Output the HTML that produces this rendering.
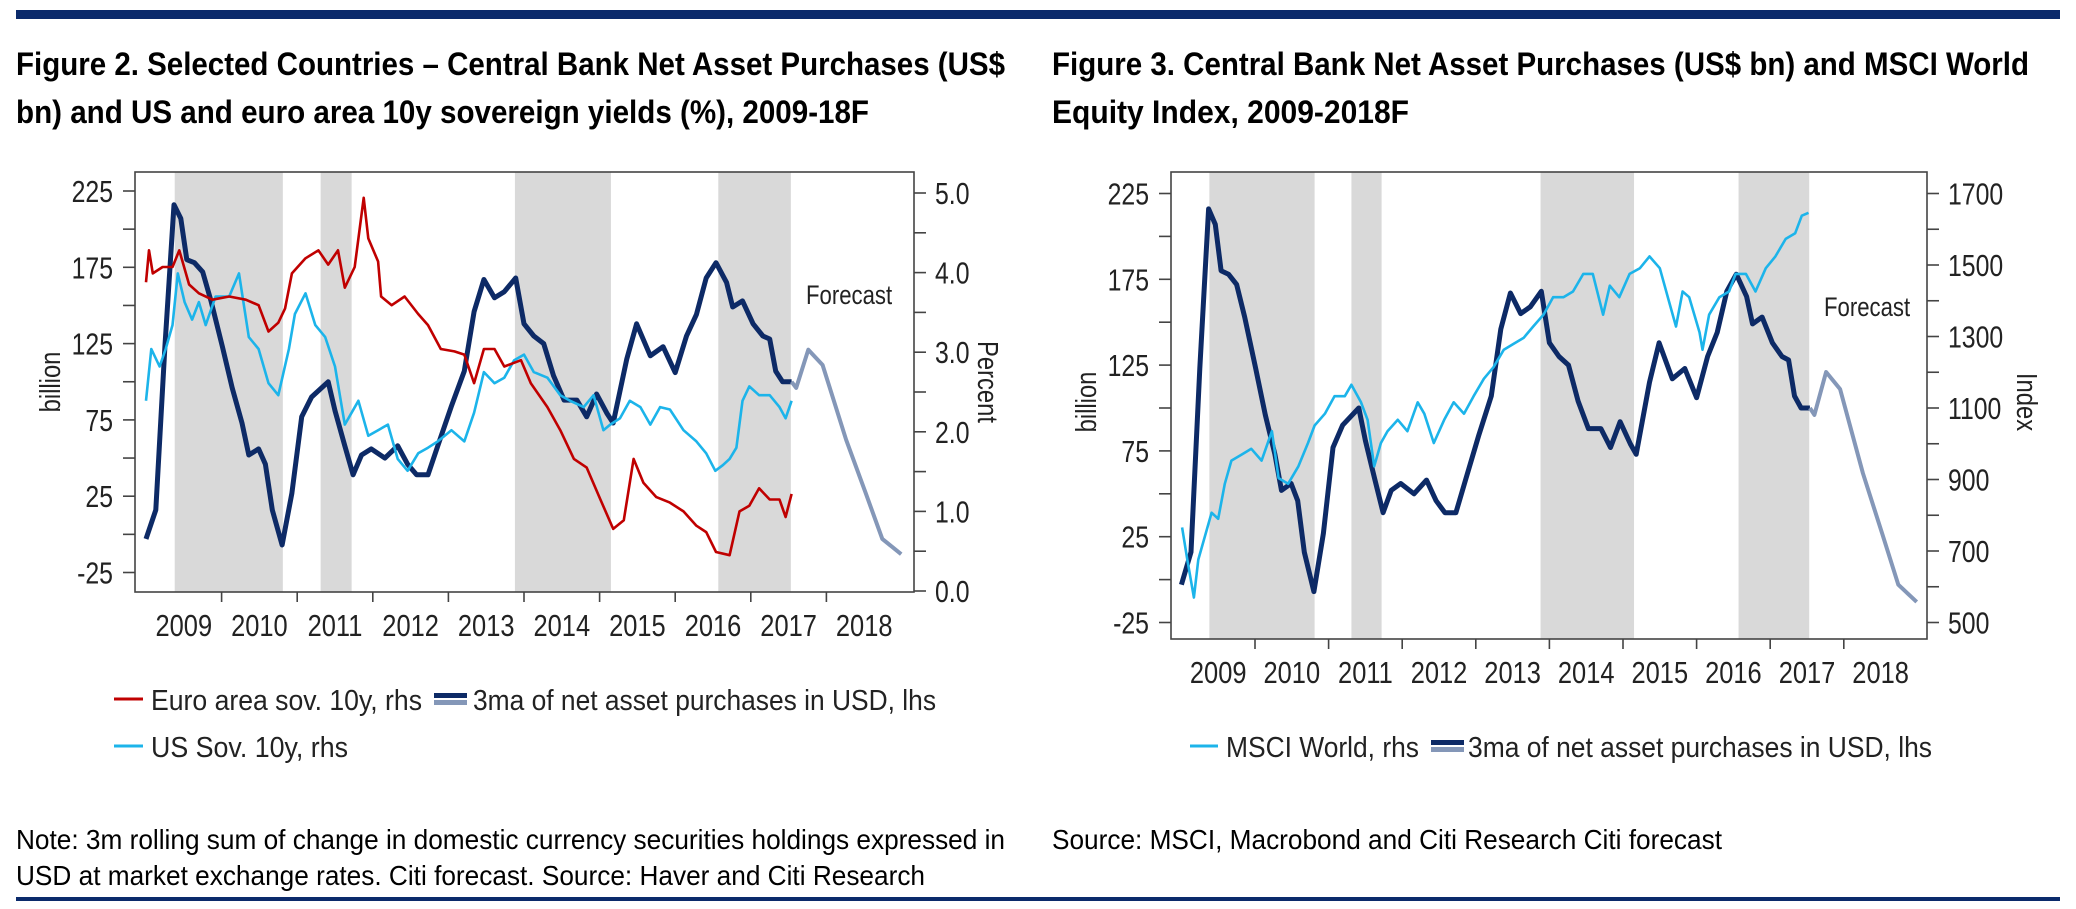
<!DOCTYPE html>
<html><head><meta charset="utf-8"><style>
html,body{margin:0;padding:0;background:#fff;}
svg{display:block;font-family:"Liberation Sans",Arial,sans-serif;}
</style></head><body>
<svg id="root" width="2076" height="909" viewBox="0 0 2076 909" xmlns="http://www.w3.org/2000/svg">
<rect x="16" y="10" width="2044" height="9" fill="#0b2a6b"/>
<rect x="16" y="897" width="2044" height="4" fill="#0b2a6b"/>
<text x="16" y="75" font-size="32" font-weight="bold" textLength="989" lengthAdjust="spacingAndGlyphs">Figure 2. Selected Countries – Central Bank Net Asset Purchases (US$</text>
<text x="16" y="123" font-size="32" font-weight="bold" textLength="853" lengthAdjust="spacingAndGlyphs">bn) and US and euro area 10y sovereign yields (%), 2009-18F</text>
<text x="1052" y="75" font-size="32" font-weight="bold" textLength="977" lengthAdjust="spacingAndGlyphs">Figure 3. Central Bank Net Asset Purchases (US$ bn) and MSCI World</text>
<text x="1052" y="123" font-size="32" font-weight="bold" textLength="357" lengthAdjust="spacingAndGlyphs">Equity Index,  2009-2018F</text>
<text x="16" y="849" font-size="28" textLength="989" lengthAdjust="spacingAndGlyphs">Note: 3m rolling sum of change in domestic currency securities holdings expressed in</text>
<text x="16" y="885" font-size="28" textLength="909" lengthAdjust="spacingAndGlyphs">USD at market exchange rates. Citi forecast. Source: Haver and Citi Research</text>
<text x="1052" y="849" font-size="28" textLength="670" lengthAdjust="spacingAndGlyphs">Source: MSCI, Macrobond and Citi Research Citi forecast</text>
<g id="c1"></g>
<g id="c2"></g>
</svg>
<script>
// ---- data ----
const yearLabels = ["2009","2010","2011","2012","2013","2014","2015","2016","2017","2018"];
const bands = [[2009.38,2010.81],[2011.31,2011.72],[2013.88,2015.15],[2016.57,2017.53]];
const purchLeftTicks = [225,175,125,75,25,-25];
const pctTicks = [5.0,4.0,3.0,2.0,1.0,0.0];
const msciTicks = [1700,1500,1300,1100,900,700,500];
const navyT = [2009.00,2009.13,2009.25,2009.37,2009.46,2009.54,2009.64,2009.75,2009.86,2010.01,2010.14,2010.27,2010.36,2010.49,2010.58,2010.67,2010.80,2010.93,2011.06,2011.19,2011.41,2011.50,2011.63,2011.74,2011.85,2011.98,2012.16,2012.33,2012.46,2012.58,2012.73,2012.86,2013.04,2013.21,2013.34,2013.47,2013.61,2013.74,2013.89,2014.00,2014.13,2014.26,2014.39,2014.53,2014.70,2014.83,2014.96,2015.10,2015.18,2015.36,2015.49,2015.67,2015.84,2016.00,2016.15,2016.28,2016.41,2016.54,2016.68,2016.76,2016.89,2017.03,2017.16,2017.25,2017.33,2017.42,2017.54];
const navyV = [-3,16,123,216,207,180,178,172,153,123,96,73,52,56,46,16,-7,27,77,90,100,81,58,39,52,56,50,58,46,39,39,58,84,107,146,167,155,159,168,138,130,125,104,88,88,77,92,79,73,115,138,117,123,106,130,144,168,178,165,149,153,138,130,128,107,100,100];
const fcT = [2017.54,2017.60,2017.76,2017.95,2018.26,2018.52,2018.74,2018.99];
const fcV = [100,96,121,111,62,27,-3,-13];
const euroT = [2009.00,2009.04,2009.09,2009.22,2009.35,2009.44,2009.57,2009.70,2009.88,2010.10,2010.32,2010.49,2010.62,2010.75,2010.84,2010.93,2011.11,2011.28,2011.41,2011.54,2011.63,2011.76,2011.88,2011.94,2012.07,2012.11,2012.25,2012.42,2012.60,2012.73,2012.90,2013.08,2013.21,2013.34,2013.47,2013.61,2013.74,2013.96,2014.09,2014.31,2014.48,2014.66,2014.83,2015.01,2015.18,2015.32,2015.45,2015.58,2015.75,2015.93,2016.11,2016.28,2016.41,2016.54,2016.72,2016.85,2016.98,2017.11,2017.25,2017.38,2017.46,2017.54];
const euroV = [3.88,4.28,3.99,4.07,4.07,4.28,3.85,3.74,3.66,3.70,3.66,3.59,3.26,3.37,3.55,3.99,4.18,4.28,4.10,4.28,3.81,4.07,4.94,4.43,4.14,3.70,3.59,3.70,3.48,3.34,3.04,3.01,2.97,2.61,3.04,3.04,2.82,2.90,2.61,2.31,2.02,1.66,1.55,1.15,0.78,0.89,1.66,1.36,1.18,1.11,1.00,0.82,0.74,0.49,0.45,1.00,1.07,1.29,1.15,1.15,0.93,1.22];
const usT = [2009.00,2009.07,2009.18,2009.26,2009.35,2009.42,2009.51,2009.61,2009.70,2009.79,2009.92,2010.10,2010.23,2010.36,2010.49,2010.62,2010.75,2010.89,2010.97,2011.11,2011.24,2011.37,2011.50,2011.63,2011.81,2011.94,2012.07,2012.20,2012.33,2012.46,2012.60,2012.73,2012.86,2013.04,2013.21,2013.34,2013.47,2013.61,2013.74,2013.87,2014.00,2014.13,2014.31,2014.48,2014.61,2014.79,2014.92,2015.05,2015.14,2015.27,2015.40,2015.54,2015.67,2015.80,2015.93,2016.11,2016.28,2016.41,2016.53,2016.63,2016.72,2016.81,2016.89,2016.98,2017.11,2017.25,2017.38,2017.46,2017.54];
const usV = [2.39,3.04,2.82,3.04,3.34,3.99,3.63,3.41,3.63,3.34,3.70,3.70,3.99,3.19,3.04,2.61,2.46,3.04,3.48,3.74,3.34,3.19,2.82,2.09,2.39,1.95,2.02,2.09,1.66,1.51,1.73,1.80,1.88,2.02,1.88,2.24,2.75,2.61,2.68,2.90,2.97,2.75,2.68,2.46,2.39,2.31,2.46,2.02,2.09,2.17,2.39,2.31,2.09,2.31,2.28,2.02,1.88,1.73,1.51,1.58,1.66,1.80,2.39,2.57,2.46,2.46,2.31,2.17,2.39];
const msciT = [2009.01,2009.08,2009.17,2009.23,2009.32,2009.41,2009.50,2009.59,2009.68,2009.82,2009.95,2010.09,2010.23,2010.32,2010.45,2010.59,2010.72,2010.81,2010.95,2011.08,2011.22,2011.31,2011.44,2011.53,2011.62,2011.71,2011.80,2011.94,2012.07,2012.21,2012.30,2012.43,2012.57,2012.70,2012.84,2012.97,2013.11,2013.24,2013.38,2013.51,2013.65,2013.78,2013.92,2014.05,2014.19,2014.32,2014.46,2014.59,2014.73,2014.82,2014.95,2015.09,2015.23,2015.36,2015.50,2015.63,2015.72,2015.81,2015.90,2016.04,2016.08,2016.17,2016.31,2016.44,2016.53,2016.67,2016.80,2016.94,2017.07,2017.21,2017.34,2017.43,2017.52];
const msciV = [766,676,570,676,742,807,790,888,953,970,986,953,1035,904,888,937,1002,1051,1084,1133,1133,1165,1116,1067,937,1002,1035,1067,1035,1116,1084,1002,1067,1116,1084,1133,1182,1214,1263,1279,1296,1328,1361,1410,1410,1426,1475,1475,1361,1442,1410,1475,1491,1524,1491,1394,1328,1426,1410,1312,1263,1361,1410,1426,1475,1475,1426,1491,1524,1573,1589,1638,1646];

const NS="http://www.w3.org/2000/svg";
function mk(parent,tag,attrs,text){const e=document.createElementNS(NS,tag);for(const k in attrs)e.setAttribute(k,attrs[k]);if(text!==undefined)e.textContent=text;parent.appendChild(e);return e;}
function narrow(t,f){const L=t.getComputedTextLength();if(L>0){t.setAttribute('textLength',(L*f).toFixed(1));t.setAttribute('lengthAdjust','spacingAndGlyphs');}}
function pathD(T,V,fx,fy){let d="";const n=Math.min(T.length,V.length);for(let i=0;i<n;i++){d+=(i?"L":"M")+fx(T[i]).toFixed(1)+" "+fy(V[i]).toFixed(1);}return d;}

function drawChart(g,cfg){
  const fx=t=>cfg.x0+(t-2009)*cfg.ppy;
  bands.forEach(b=>{
    const r=mk(g,"rect",{x:fx(b[0]),y:cfg.top,width:fx(b[1])-fx(b[0]),height:cfg.bot-cfg.top,fill:"#d9d9d9"});
    
    
  });
  const box=mk(g,"rect",{x:cfg.left,y:cfg.top,width:cfg.right-cfg.left,height:cfg.bot-cfg.top,fill:"none",stroke:"#444",'stroke-width':1.6});
  
  
  for(let v=225;v>=-25;v-=25){
    const y=cfg.yL(v);
    const tk=mk(g,"line",{x1:cfg.left-12,x2:cfg.left,y1:y,y2:y,stroke:"#444",'stroke-width':1.6});
    
    
  }
  purchLeftTicks.forEach(v=>{
    const t=mk(g,"text",{x:cfg.left-22,y:cfg.yL(v)+11,'font-size':31,'text-anchor':'end',fill:"#222"},String(v));
    
    
    narrow(t,0.8);
  });
  cfg.rMinor.forEach(p=>{
    const y=cfg.yR(p);
    const tk=mk(g,"line",{x1:cfg.right,x2:cfg.right+12,y1:y,y2:y,stroke:"#444",'stroke-width':1.6});
    
    
  });
  cfg.rTicks.forEach(p=>{
    const t=mk(g,"text",{x:cfg.right+21,y:cfg.yR(p)+11,'font-size':31,fill:"#222"},cfg.rFmt(p));
    
    
    narrow(t,0.8);
  });
  for(let i=1;i<yearLabels.length;i++){
    const x=fx(2009+i);
    const tk=mk(g,"line",{x1:x,x2:x,y1:cfg.bot,y2:cfg.bot+10,stroke:"#444",'stroke-width':1.6});
    
    
  }
  yearLabels.forEach((lb,i)=>{
    const t=mk(g,"text",{x:fx(2009+i+0.5),y:cfg.bot+44,'font-size':31,'text-anchor':'middle',fill:"#222"},lb);
    
    
    narrow(t,0.82);
  });
  const yl=mk(g,"text",{x:0,y:0,'font-size':29,'text-anchor':'middle',fill:"#222",transform:`translate(${cfg.left-75},${cfg.ytc}) rotate(-90)`},"billion");
  
  
  narrow(yl,0.82);
  const yr=mk(g,"text",{x:0,y:0,'font-size':29,'text-anchor':'middle',fill:"#222",transform:`translate(${cfg.rtx},${cfg.ytc}) rotate(90)`},cfg.rTitle);
  
  
  narrow(yr,0.82);
  const fc=mk(g,"text",{x:cfg.fcx,y:cfg.fcy,'font-size':27,fill:"#222"},"Forecast");
  
  
  narrow(fc,0.82);
  const nv=mk(g,"path",{d:pathD(navyT,navyV,fx,cfg.yL),fill:"none",stroke:"#0d2a66",'stroke-width':5,'stroke-linejoin':'round'});
  
  
  const fl=mk(g,"path",{d:pathD(fcT,fcV,fx,cfg.yL),fill:"none",stroke:"#8497b8",'stroke-width':4,'stroke-linejoin':'round'});
  
  
  cfg.series.forEach(s=>{
    const p=mk(g,"path",{d:pathD(s.T,s.V,fx,cfg.yR),fill:"none",stroke:s.c,'stroke-width':2.6,'stroke-linejoin':'round'});
    
    
  });
}

const minorPct=[];for(let i=0;i<=10;i++)minorPct.push(i*0.5);
const minorMsci=[];for(let v=500;v<=1700;v+=100)minorMsci.push(v);

drawChart(document.getElementById('c1'),{
  x0:146,ppy:75.6,left:135,right:914,top:172,bot:592,
  yL:v=>191+(225-v)*76.3/50, yR:p=>591-p*79.6,
  rTicks:pctTicks,rMinor:minorPct,rFmt:p=>p.toFixed(1),rTitle:"Percent",rtx:978,ytc:382,
  fcx:806,fcy:304,
  series:[{T:usT,V:usV,c:"#1cb4ea",name:"us-sov-10y-line"},{T:euroT,V:euroV,c:"#c00000",name:"euro-sov-10y-line"}]
});
drawChart(document.getElementById('c2'),{
  x0:1181.4,ppy:73.6,left:1171,right:1927,top:172,bot:639,
  yL:v=>193.5+(225-v)*85.8/50, yR:p=>193.5+(1700-p)*71.5/200,
  rTicks:msciTicks,rMinor:minorMsci,rFmt:p=>String(p),rTitle:"Index",rtx:2017,ytc:402,
  fcx:1824,fcy:316,
  series:[{T:msciT,V:msciV,c:"#1cb4ea",name:"msci-world-line"}]
});

const root=document.getElementById('root');
function legendLine(x1,x2,y,c,w,name){const l=mk(root,"line",{x1:x1,x2:x2,y1:y,y2:y,stroke:c,'stroke-width':w});}
function legendDual(x,y,name){const g=mk(root,"g",{});
  mk(g,"rect",{x:x,y:y-6,width:33,height:5,fill:"#0d2a66"});mk(g,"rect",{x:x,y:y+1,width:33,height:5,fill:"#8497b8"});}
function legendText(x,y,s,w,name){const t=mk(root,"text",{x:x,y:y,'font-size':29,fill:"#222",textLength:w,lengthAdjust:"spacingAndGlyphs"},s);}
legendLine(114,143,699,"#c00000",3,"legend-euro-marker");
legendText(151,710,"Euro area sov. 10y, rhs",271,"legend-euro-label");
legendDual(434,699,"legend-purchases-marker");
legendText(473,710,"3ma of net asset purchases in USD, lhs",463,"legend-purchases-label");
legendLine(114,143,746,"#1cb4ea",3,"legend-us-marker");
legendText(151,757,"US Sov. 10y, rhs",197,"legend-us-label");
legendLine(1190,1218,746,"#1cb4ea",3,"legend-msci-marker");
legendText(1226,757,"MSCI World, rhs",193,"legend-msci-label");
legendDual(1431,746,"legend-purchases-marker-fig3");
legendText(1468,757,"3ma of net asset purchases in USD, lhs",464,"legend-purchases-label-fig3");
</script>
</body></html>
